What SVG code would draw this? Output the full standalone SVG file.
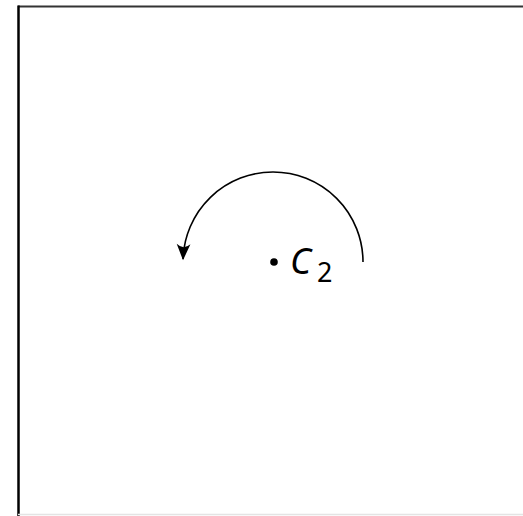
<svg xmlns="http://www.w3.org/2000/svg" width="523" height="516" viewBox="0 0 523 516">
<style>
.arc{fill:none;stroke:#000;stroke-width:1.6}
.lbl{font-family:"Noto Sans","DejaVu Sans",sans-serif;font-style:italic;fill:#000}
.sub{font-family:"Noto Sans","DejaVu Sans",sans-serif;fill:#000}
</style>
<defs>
<marker id="ah" markerUnits="userSpaceOnUse" markerWidth="20" markerHeight="20" viewBox="-14 -7 16 14" refX="0" refY="0" orient="auto">
<path d="M1,0 L-12,-5.5 Q-7,0 -12,5.5 Z" fill="#000"/>
</marker>
</defs>
<rect width="523" height="516" fill="#fff"/>
<g id="frame">
<line x1="18" y1="6.5" x2="523" y2="6.5" stroke="#333" stroke-width="2"/>
<line x1="18.5" y1="5.5" x2="18.5" y2="516" stroke="#000" stroke-width="2.5"/>
<line x1="18" y1="514.5" x2="523" y2="514.5" stroke="#e4e4e4" stroke-width="1.5"/>
</g>
<g id="connectors">
<path class="arc" d="M363,262 A90,90 0 0 0 273,172 A90,90 0 0 0 183.06,259" marker-end="url(#ah)"/>
</g>
<g id="C2">
<circle cx="274" cy="262" r="3.8" fill="#000"/>
<text class="lbl" x="290" y="274" font-size="36">C</text>
<text class="sub" x="317" y="282" font-size="27">2</text>
</g>
</svg>
